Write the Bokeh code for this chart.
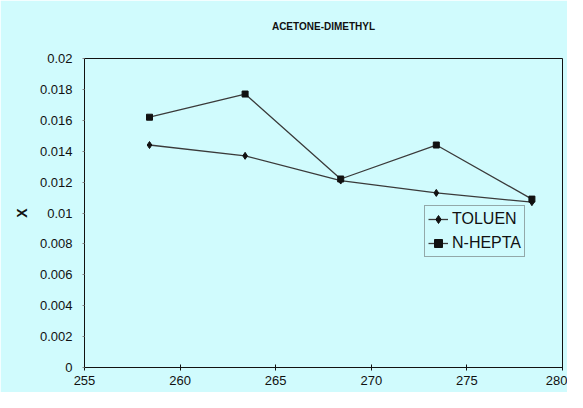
from bokeh.plotting import figure
from bokeh.models import FixedTicker, NumeralTickFormatter, Range1d, Legend, LegendItem, Title
from bokeh.embed import file_html
from bokeh.resources import INLINE

# Data
temperature = [258.4, 263.4, 268.4, 273.4, 278.4]
toluen = [0.0144, 0.0137, 0.0121, 0.0113, 0.0107]
n_hepta = [0.0162, 0.0177, 0.0122, 0.0144, 0.0109]
x_ticks = [255, 260, 265, 270, 275, 280]
y_ticks = [0, 0.002, 0.004, 0.006, 0.008, 0.01, 0.012, 0.014, 0.016, 0.018, 0.02]

BG = "#d0fbfd"
INK = "#111111"
LINE = "#3a3a3a"

p = figure(width=567, height=392, output_backend="svg", toolbar_location=None,
           x_range=Range1d(255, 280), y_range=Range1d(0, 0.02),
           min_border_left=84, min_border_right=5, min_border_bottom=25, min_border_top=58)

p.background_fill_color = BG
p.border_fill_color = BG
p.outline_line_color = INK
p.outline_line_width = 1
p.xgrid.visible = False
p.ygrid.visible = False

p.title.text = "ACETONE-DIMETHYL"
p.title.align = "center"
p.title.text_font = "Liberation Sans"
p.title.text_font_size = "10px"
p.title.text_font_style = "bold"
p.title.text_color = INK
p.title.standoff = 37

# spacer between the title and the frame
spacer = Title(text=" ", text_font_size="5px", standoff=0)
p.add_layout(spacer, "above")

p.xaxis.ticker = FixedTicker(ticks=x_ticks)
p.xaxis.minor_tick_line_color = None
p.xaxis.major_tick_in = 3
p.xaxis.major_tick_out = 3
p.xaxis.major_label_standoff = 5
p.xaxis.major_label_text_font = "Liberation Sans"
p.xaxis.major_label_text_font_size = "13px"
p.xaxis.major_label_text_color = INK
p.xaxis.axis_line_color = INK
p.xaxis.major_tick_line_color = INK

p.yaxis.ticker = FixedTicker(ticks=y_ticks)
p.yaxis.formatter = NumeralTickFormatter(format="0.[000]")
p.yaxis.minor_tick_line_color = None
p.yaxis.major_tick_in = 0
p.yaxis.major_tick_out = 2
p.yaxis.major_label_standoff = 10
p.yaxis.major_label_text_font = "Liberation Sans"
p.yaxis.major_label_text_font_size = "13px"
p.yaxis.major_label_text_color = INK
p.yaxis.axis_line_color = INK
p.yaxis.major_tick_line_color = "#888888"
p.yaxis.axis_label = "X"
p.yaxis.axis_label_text_font = "Liberation Sans"
p.yaxis.axis_label_text_font_size = "14px"
p.yaxis.axis_label_text_font_style = "bold"
p.yaxis.axis_label_text_color = INK
p.yaxis.axis_label_standoff = 7

l1 = p.line(temperature, toluen, line_color=LINE, line_width=1.3)
s1 = p.scatter(temperature, toluen, marker="diamond", size=7, fill_color=INK, line_color=INK)
l2 = p.line(temperature, n_hepta, line_color=LINE, line_width=1.3)
s2 = p.scatter(temperature, n_hepta, marker="square", size=6, fill_color=INK, line_color=INK)

legend = Legend(items=[LegendItem(label="TOLUEN", renderers=[l1, s1]),
                       LegendItem(label="N-HEPTA", renderers=[l2, s2])],
                location=(340, 110))
legend.label_text_font = "Liberation Sans"
legend.label_text_font_size = "16px"
legend.label_text_color = INK
legend.background_fill_alpha = 0
legend.border_line_color = "#555555"
legend.border_line_width = 1
legend.padding = 3
legend.spacing = 4
legend.margin = 0
legend.glyph_width = 20
legend.glyph_height = 20
legend.label_standoff = 4
legend.label_height = 20
p.add_layout(legend, "center")

open("out.html", "w").write(file_html(p, INLINE))
